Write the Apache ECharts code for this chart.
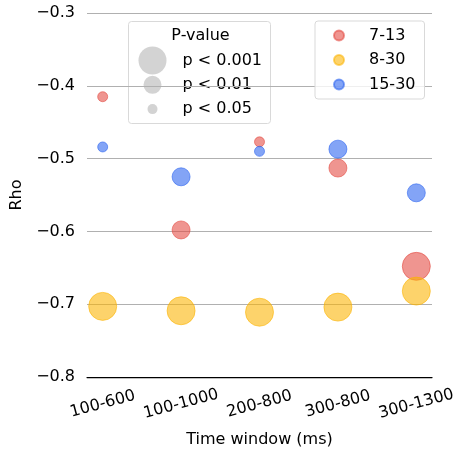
<!DOCTYPE html>
<html>
<head>
<meta charset="utf-8">
<script src="https://cdn.jsdelivr.net/npm/echarts@6/dist/echarts.min.js"></script>
<style>html,body{margin:0;padding:0;background:#fff}#c{width:458px;height:449px}</style>
</head>
<body>
<div id="c"></div>
<script>
// Data
const categories = ['100-600', '100-1000', '200-800', '300-800', '300-1300'];
const seriesNames = ['7-13', '8-30', '15-30'];
const rho_7_13  = [-0.415, -0.598, -0.477, -0.513, -0.648];
const rho_8_30  = [-0.703, -0.709, -0.711, -0.704, -0.682];
const rho_15_30 = [-0.484, -0.525, -0.490, -0.487, -0.547];
// significance level index: 0 = p<0.001, 1 = p<0.01, 2 = p<0.05
const sig_7_13  = [2, 1, 2, 1, 0];
const sig_8_30  = [0, 0, 0, 0, 0];
const sig_15_30 = [2, 1, 2, 1, 1];
const pLabels = ['p < 0.001', 'p < 0.01', 'p < 0.05'];
const yTicks = [-0.8, -0.7, -0.6, -0.5, -0.4, -0.3];

const FONT = 'DejaVu Sans';
const sizeFor = [28, 18, 10];
const colors = ['#e3483f', '#fcb400', '#2a62f0'];

function mk(name, vals, sigs, color) {
  return {
    name: name,
    type: 'scatter',
    data: vals.map((v, i) => [i, v, sigs[i]]),
    symbol: 'circle',
    symbolSize: d => sizeFor[d[2]],
    itemStyle: { color: color, borderColor: color, borderWidth: 1, opacity: 0.58 },
    emphasis: { disabled: true }
  };
}

const chart = echarts.init(document.getElementById('c'), null, { renderer: 'canvas' });

// P-value legend (graphic)
const pl = { x: 128, y: 21, w: 142, h: 102 };
const pChildren = [
  { type: 'rect', shape: { x: 0, y: 0, width: pl.w, height: pl.h, r: 3 },
    style: { fill: 'rgba(255,255,255,0.8)', stroke: '#d9d9d9', lineWidth: 1 } },
  { type: 'text', x: 72, y: 14, style: { text: 'P-value', font: '16px "' + FONT + '"', fill: '#000', align: 'center', verticalAlign: 'middle' } }
];
pLabels.forEach((t, i) => {
  const cy = 39 + i * 24.3;
  pChildren.push({ type: 'circle', shape: { cx: 24, cy: cy, r: sizeFor[i] / 2 }, style: { fill: '#d3d3d3' } });
  pChildren.push({ type: 'text', x: 54, y: cy, style: { text: t, font: '16px "' + FONT + '"', fill: '#000', align: 'left', verticalAlign: 'middle' } });
});

chart.setOption({
  animation: false,
  textStyle: { fontFamily: FONT },
  grid: { left: 87, right: 26, top: 13, bottom: 72, containLabel: false, outerBoundsMode: 'none' },
  xAxis: {
    type: 'value', min: -0.2, max: 4.2,
    name: 'Time window (ms)', nameLocation: 'middle', nameGap: 55,
    nameTextStyle: { fontSize: 16, color: '#000', fontFamily: FONT },
    axisLine: { show: true, onZero: false, lineStyle: { color: '#000', width: 1.25 } },
    axisTick: { show: false },
    splitLine: { show: false },
    axisLabel: {
      customValues: [0, 1, 2, 3, 4],
      formatter: v => categories[Math.round(v)],
      rotate: 15, align: 'center', verticalAlign: 'middle', margin: 27,
      fontSize: 16, color: '#000', fontFamily: FONT
    }
  },
  yAxis: {
    type: 'value', min: -0.8, max: -0.3, interval: 0.1,
    name: 'Rho', nameLocation: 'middle', nameGap: 52, nameRotate: 90,
    nameTextStyle: { fontSize: 16, color: '#000', fontFamily: FONT },
    axisLine: { show: false },
    axisTick: { show: false },
    splitLine: { show: true, lineStyle: { color: '#b0b0b0', width: 1 } },
    axisLabel: {
      margin: 12, fontSize: 16, color: '#000', fontFamily: FONT,
      formatter: v => (v < 0 ? '\u2212' : '') + Math.abs(v).toFixed(1)
    }
  },
  legend: {
    data: seriesNames,
    orient: 'vertical', left: 315, top: 21,
    padding: [6.5, 9, 6.5, 18],
    itemWidth: 10, itemHeight: 10, itemGap: 8.5,
    icon: 'circle',
    backgroundColor: 'rgba(255,255,255,0.8)',
    borderColor: '#d9d9d9', borderWidth: 1, borderRadius: 3,
    textStyle: { fontSize: 16, lineHeight: 16, color: '#000', fontFamily: FONT, padding: [0, 0, 0, 20] },
    selectedMode: false
  },
  graphic: [{ type: 'group', left: pl.x, top: pl.y, z: 100, children: pChildren }],
  series: [
    mk(seriesNames[0], rho_7_13, sig_7_13, colors[0]),
    mk(seriesNames[1], rho_8_30, sig_8_30, colors[1]),
    mk(seriesNames[2], rho_15_30, sig_15_30, colors[2])
  ]
});
</script>
</body>
</html>
